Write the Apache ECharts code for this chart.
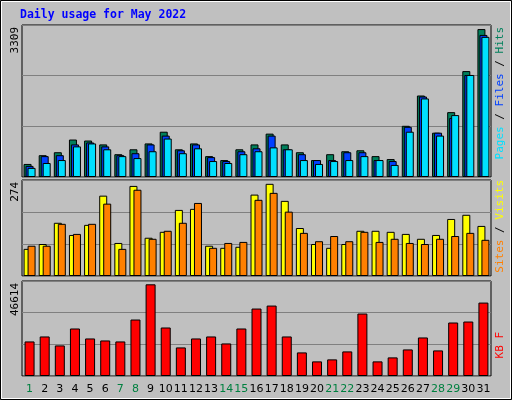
<!DOCTYPE html>
<html><head><meta charset="utf-8">
<script src="https://cdn.jsdelivr.net/npm/echarts@6/dist/echarts.min.js"></script>
<style>html,body{margin:0;padding:0;background:#c0c0c0}#c{width:512px;height:400px}</style>
</head><body><div id="c"></div>
<script>
var days = ['1','2','3','4','5','6','7','8','9','10','11','12','13','14','15','16','17','18','19','20','21','22','23','24','25','26','27','28','29','30','31'];
var weekendDays = ['1','7','8','14','15','21','22','28','29'];
var hits  = [292,488,554,838,816,729,510,620,751,1013,620,751,467,379,620,729,970,729,554,379,510,576,598,467,401,1145,1823,991,1451,2369,3309];
var files = [248,467,488,729,773,685,488,532,729,926,598,729,445,357,576,642,926,620,510,379,379,554,554,379,357,1123,1801,991,1320,2282,3178];
var pages = [204,313,379,685,751,620,467,423,576,860,532,642,357,313,510,576,663,620,379,292,357,379,467,379,270,1013,1757,926,1385,2282,3135];
var visits = [78,92,153,118,147,231,95,259,110,127,190,193,87,81,84,234,265,216,138,92,81,92,130,130,127,121,107,118,164,176,144];
var sites  = [87,87,150,121,150,208,78,248,107,130,153,210,81,95,98,219,239,185,124,100,115,100,127,98,107,95,92,107,115,124,104];
var kbytes = [17566,20099,15539,24153,19086,18072,17566,28713,46614,24659,14525,19086,20099,16552,24153,34287,35807,20099,11992,7432,8445,12499,31753,7432,9458,13512,19592,13005,27193,27700,37327];
var maxLabels = ['3309','274','46614'];

var chart = echarts.init(document.getElementById('c'));
var mono = 'DejaVu Sans Mono';
function grid(top,h){return {left:22,right:21,top:top,height:h,show:true,backgroundColor:'#c0c0c0',borderColor:'#000',borderWidth:1};}
function xa(i,showLabels){return {type:'category',data:days,gridIndex:i,axisLine:{show:false},axisTick:{show:false},
  axisLabel:{show:showLabels,interval:0,margin:8,fontFamily:'DejaVu Sans',fontSize:11,
    formatter:function(v){return weekendDays.indexOf(v)>=0?'{w|'+v+'}':'{d|'+v+'}';},
    rich:{w:{color:'#008040',fontFamily:'DejaVu Sans',fontSize:11},d:{color:'#000',fontFamily:'DejaVu Sans',fontSize:11}}}};}
function ya(i,max){return {type:'value',gridIndex:i,min:0,max:max,interval:max/3,axisLabel:{show:false},axisLine:{show:false},axisTick:{show:false},
  splitLine:{lineStyle:{color:'#808080',width:1}}};}
function bar(name,data,color,xi,w,gap){return {type:'bar',name:name,data:data,xAxisIndex:xi,yAxisIndex:xi,barWidth:w,barGap:gap,
  itemStyle:{color:color,borderColor:'#000',borderWidth:1},animation:false};}
function vtext(x,y,rich,str){return {type:'text',x:x,y:y,rotation:Math.PI/2,style:{text:str,rich:rich,align:'right',verticalAlign:'middle',fontFamily:mono,fontSize:11}};}
var option = {
  backgroundColor:'#c0c0c0',
  animation:false,
  grid:[grid(25,152),grid(180,96),grid(281,95)],
  xAxis:[xa(0,false),xa(1,false),xa(2,true)],
  yAxis:[ya(0,3400),ya(1,276),ya(2,48300)],
  series:[
    bar('Hits',hits,'#00805c',0,8,'-75%'),
    bar('Files',files,'#0040ff',0,8,'-75%'),
    bar('Pages',pages,'#00e0ff',0,8,'-75%'),
    bar('Visits',visits,'#ffff00',1,8,'-50%'),
    bar('Sites',sites,'#ff8000',1,8,'-50%'),
    bar('KBytes',kbytes,'#ff0000',2,10,'0%')
  ],
  graphic:[
    {type:'rect',shape:{x:0.5,y:0.5,width:511,height:399},style:{fill:'none',stroke:'#000',lineWidth:1}},
    {type:'rect',shape:{x:1.5,y:1.5,width:509,height:397},style:{fill:'none',stroke:'#ffffff',lineWidth:1}},
    {type:'text',x:20,y:9,style:{text:'Daily usage for May 2022',fill:'#0000ff',fontFamily:mono,fontWeight:'bold',fontSize:11.5}},
    vtext(15,27,{k:{fill:'#000',fontFamily:mono,fontSize:11}},'{k|'+maxLabels[0]+'}'),
    vtext(15,182,{k:{fill:'#000',fontFamily:mono,fontSize:11}},'{k|'+maxLabels[1]+'}'),
    vtext(15,283,{k:{fill:'#000',fontFamily:mono,fontSize:11}},'{k|'+maxLabels[2]+'}'),
    vtext(500,27,{p:{fill:'#00e0ff',fontFamily:mono,fontSize:11},s:{fill:'#000',fontFamily:mono,fontSize:11},f:{fill:'#0040ff',fontFamily:mono,fontSize:11},h:{fill:'#00805c',fontFamily:mono,fontSize:11}},'{p|Pages}{s| / }{f|Files}{s| / }{h|Hits}'),
    vtext(500,180,{a:{fill:'#ff8000',fontFamily:mono,fontSize:11},s:{fill:'#000',fontFamily:mono,fontSize:11},b:{fill:'#ffff00',fontFamily:mono,fontSize:11}},'{a|Sites}{s| / }{b|Visits}'),
    vtext(500,332,{r:{fill:'#ff0000',fontFamily:mono,fontSize:11}},'{r|KB F}')
  ]
};
chart.setOption(option);
</script></body></html>
